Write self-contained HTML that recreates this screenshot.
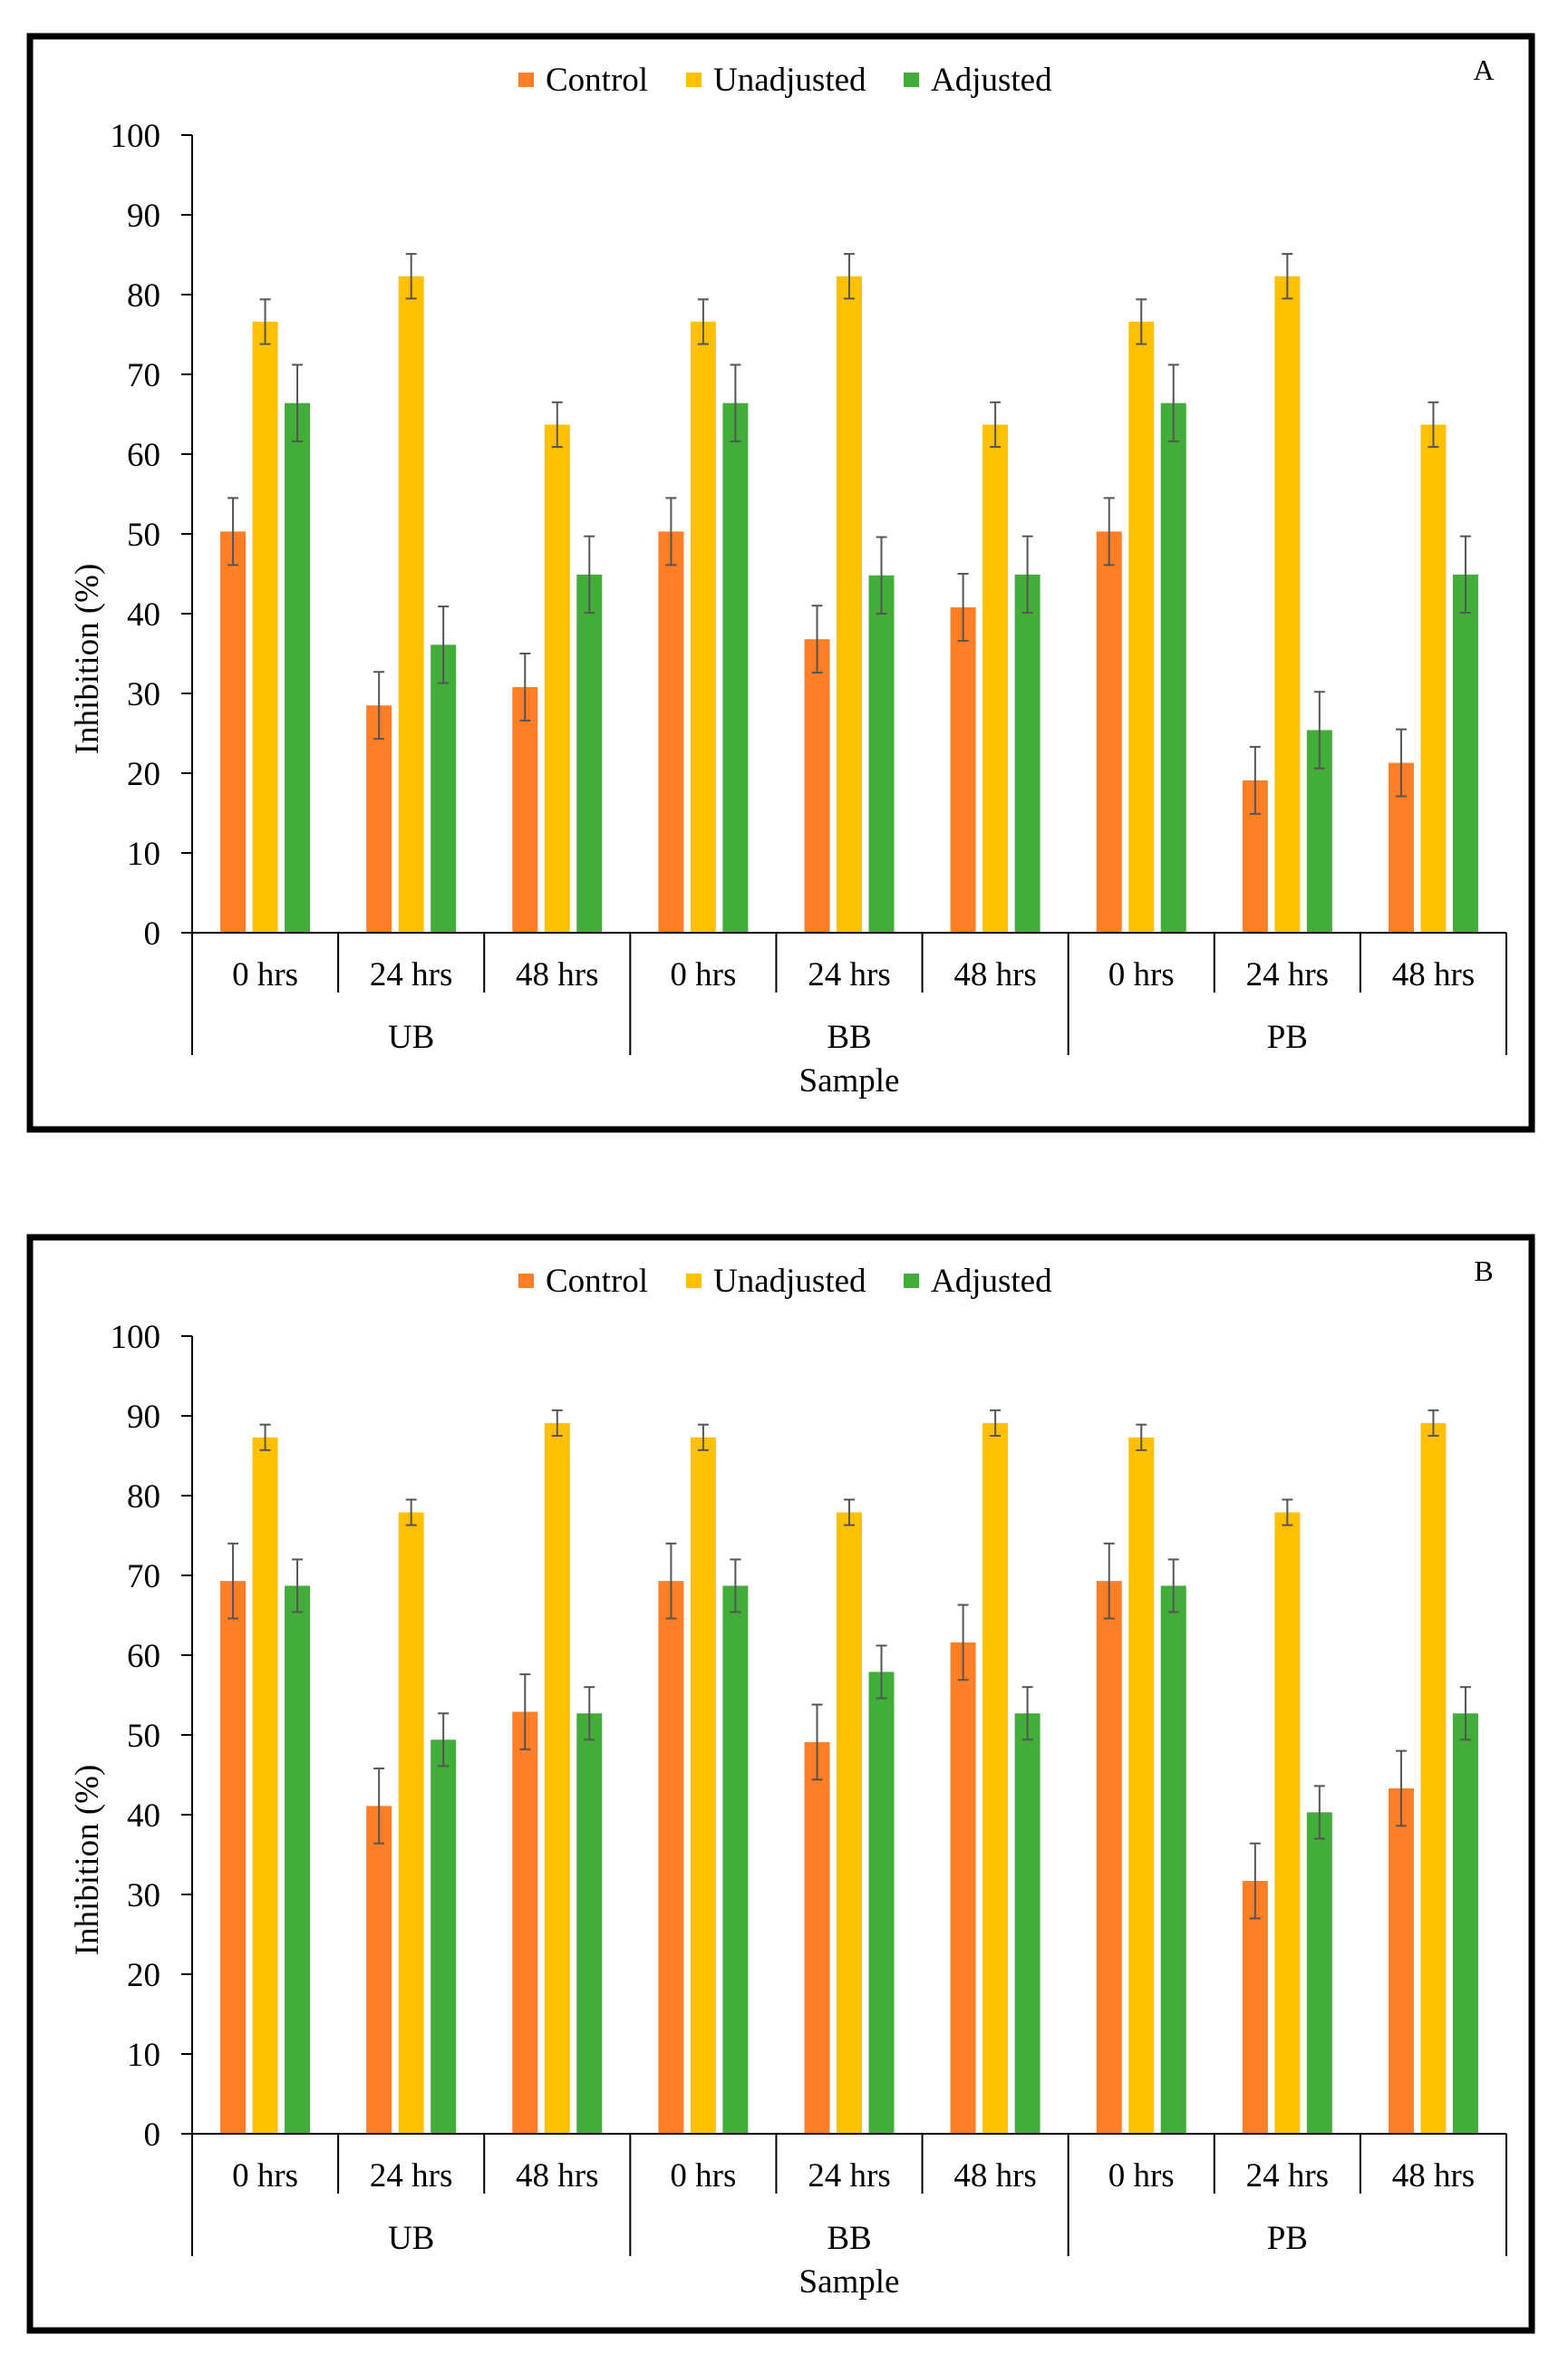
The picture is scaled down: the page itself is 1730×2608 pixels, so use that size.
<!DOCTYPE html>
<html><head><meta charset="utf-8">
<style>
html,body{margin:0;padding:0;background:#fff;}
svg{display:block;}
svg text{font-family:"Liberation Serif","Times New Roman",serif;}
</style></head>
<body>
<svg id="chart" width="1730" height="2608" viewBox="0 0 1730 2608" xmlns="http://www.w3.org/2000/svg"></svg>
<script>
const categories = ["0 hrs","24 hrs","48 hrs","0 hrs","24 hrs","48 hrs","0 hrs","24 hrs","48 hrs"];
const groups = ["UB","BB","PB"];
const seriesNames = ["Control","Unadjusted","Adjusted"];
const yTicks = [0,10,20,30,40,50,60,70,80,90,100];
const aControl = [50.3,28.5,30.8,50.3,36.8,40.8,50.3,19.1,21.3];
const aUnadj = [76.6,82.3,63.7,76.6,82.3,63.7,76.6,82.3,63.7];
const aAdj = [66.4,36.1,44.9,66.4,44.8,44.9,66.4,25.4,44.9];
const aControlErr = [4.2,4.2,4.2,4.2,4.2,4.2,4.2,4.2,4.2];
const aUnadjErr = [2.8,2.8,2.8,2.8,2.8,2.8,2.8,2.8,2.8];
const aAdjErr = [4.8,4.8,4.8,4.8,4.8,4.8,4.8,4.8,4.8];
const bControl = [69.3,41.1,52.9,69.3,49.1,61.6,69.3,31.7,43.3];
const bUnadj = [87.3,77.9,89.1,87.3,77.9,89.1,87.3,77.9,89.1];
const bAdj = [68.7,49.4,52.7,68.7,57.9,52.7,68.7,40.3,52.7];
const bControlErr = [4.7,4.7,4.7,4.7,4.7,4.7,4.7,4.7,4.7];
const bUnadjErr = [1.6,1.6,1.6,1.6,1.6,1.6,1.6,1.6,1.6];
const bAdjErr = [3.3,3.3,3.3,3.3,3.3,3.3,3.3,3.3,3.3];

const NS="http://www.w3.org/2000/svg";
const svg=document.getElementById('chart');
const colors=["#FF7F27","#FFC000","#43AD39"];
const FONT='"Liberation Serif", serif';
function mk(tag,attrs,parent){const e=document.createElementNS(NS,tag);for(const k in attrs)e.setAttribute(k,attrs[k]);if(tag==='text')e.setAttribute('font-family',FONT);(parent||svg).appendChild(e);return e;}

function panel(off,label,vals,errs,pname){
  const g=mk('g',{});
  
  
  const X0=212,X1=1662,Y0=1029+off,Y100=149+off;
  const cw=(X1-X0)/categories.length;
  const y=v=>Y0-(Y0-Y100)*v/100;
  const xc=i=>X0+cw*(i+0.5);
  const fr=mk('rect',{x:33,y:40+off,width:1657,height:1206,fill:'none',stroke:'#000','stroke-width':7},g);
  
  
  const lx=[580,765,1005];
  seriesNames.forEach((n,i)=>{
    const m=mk('rect',{x:lx[i]-8,y:off+80,width:17,height:16,fill:colors[i]},g);
    
    
    const t=mk('text',{x:lx[i]+22,y:off+100,'font-size':37,fill:'#000'},g);
    t.textContent=n;
    
    
  });
  const pl=mk('text',{x:1637,y:off+88,'font-size':32,'text-anchor':'middle'},g);
  pl.textContent=label;
  
  
  const ya=mk('line',{x1:X0,y1:Y100,x2:X0,y2:Y0,stroke:'#000','stroke-width':2},g);
  
  
  yTicks.forEach(v=>{
    mk('line',{x1:X0-12,y1:y(v),x2:X0,y2:y(v),stroke:'#000','stroke-width':2},g);
    const t=mk('text',{x:177,y:y(v)+13,'font-size':37,'text-anchor':'end'},g);
    t.textContent=v;
    
    
  });
  const yt=mk('text',{x:0,y:0,'font-size':37,'text-anchor':'middle',transform:`translate(108,${off+727}) rotate(-90)`},g);
  yt.textContent='Inhibition (%)';
  
  
  const offs=[-35.5,0,35.5];
  vals.forEach((s,si)=>{
    s.forEach((v,i)=>{
      const cx=xc(i)+offs[si];
      const b=mk('rect',{x:cx-14,y:y(v),width:28,height:Y0-y(v),fill:colors[si]},g);
      
      
      const e=errs[si][i];
      const eg=mk('g',{stroke:'#555','stroke-width':2},g);
      
      
      mk('line',{x1:cx,y1:y(v+e),x2:cx,y2:y(v-e)},eg);
      mk('line',{x1:cx-6,y1:y(v+e),x2:cx+6,y2:y(v+e)},eg);
      mk('line',{x1:cx-6,y1:y(v-e),x2:cx+6,y2:y(v-e)},eg);
    });
  });
  const xa=mk('line',{x1:X0,y1:Y0,x2:X1,y2:Y0,stroke:'#000','stroke-width':2},g);
  
  
  for(let i=0;i<=categories.length;i++){
    const x=X0+cw*i;
    const long=(i%3===0);
    mk('line',{x1:x,y1:Y0,x2:x,y2:Y0+(long?135:66),stroke:'#000','stroke-width':2},g);
  }
  categories.forEach((c,i)=>{
    const t=mk('text',{x:xc(i),y:Y0+58,'font-size':37,'text-anchor':'middle'},g);
    t.textContent=c;
    
    
  });
  groups.forEach((gn,i)=>{
    const t=mk('text',{x:xc(i*3+1),y:Y0+127,'font-size':37,'text-anchor':'middle'},g);
    t.textContent=gn;
    
    
  });
  const xt=mk('text',{x:(X0+X1)/2,y:Y0+175,'font-size':37,'text-anchor':'middle'},g);
  xt.textContent='Sample';
  
  
}
panel(0,'A',[aControl,aUnadj,aAdj],[aControlErr,aUnadjErr,aAdjErr],'chart-a');
panel(1325,'B',[bControl,bUnadj,bAdj],[bControlErr,bUnadjErr,bAdjErr],'chart-b');
</script>
</body></html>
